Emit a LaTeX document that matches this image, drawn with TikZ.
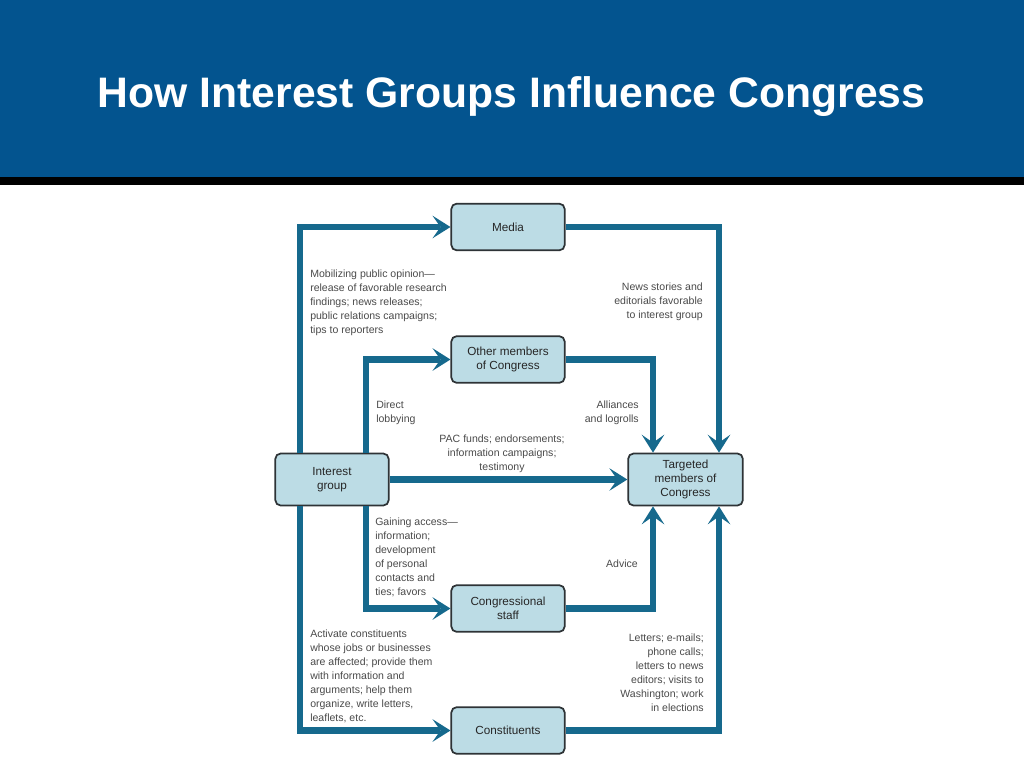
\documentclass[tikz,border=0pt]{standalone}
\usepackage{fontspec}
\setmainfont{Liberation Sans}
\usetikzlibrary{arrows.meta}
\definecolor{hdr}{HTML}{03548F}
\definecolor{flowc}{HTML}{16698D}
\definecolor{boxfill}{HTML}{BCDCE5}
\definecolor{boxline}{HTML}{2E3336}
\definecolor{lblc}{HTML}{4A4A4A}
\definecolor{boxtext}{HTML}{262626}
\begin{document}
\begin{tikzpicture}[x=0.75pt,y=-0.75pt,
 box/.style={draw=boxline, line width=1.3pt, fill=boxfill, rounded corners=4pt,
   minimum width=85pt, minimum height=35pt, align=center,
   font=\fontsize{8.8}{10.2}\selectfont, text=boxtext, inner sep=0pt},
 flow/.style={draw=flowc, line width=4.6pt, line join=miter,
   -{Stealth[length=13.5pt,width=17pt,inset=6pt,line width=0pt]}},
 lbl/.style={font=\fontsize{7.9}{10.5}\selectfont, text=lblc, inner sep=0pt}]
\useasboundingbox (0,0) rectangle (1024,768);
\fill[white] (0,0) rectangle (1024,768);
\fill[hdr] (0,0) rectangle (1024,177);
\fill[black] (0,177) rectangle (1024,185);
\node[anchor=base, text=white, font=\fontsize{32}{38}\selectfont\bfseries] (title) at (511.5,107) {How Interest Groups Influence Congress};

% nodes
\node[box] (media) at (508,227) {Media};
\node[box] (other) at (508,359.5) {Other members\\of Congress};
\node[box, minimum height=39pt] (ig) at (332,479.5) {Interest\\group};
\node[box, minimum width=86pt, minimum height=39pt] (tgt) at (685.5,479.5) {Targeted\\members of\\Congress};
\node[box] (staff) at (508,608.5) {Congressional\\staff};
\node[box] (const) at (508,730.5) {Constituents};

% trunk coordinates
\coordinate (L) at (300,0);
\coordinate (M) at (366,0);
\coordinate (N) at (653,0);
\coordinate (R) at (719,0);

% connectors
\draw[flow] (ig.north -| L) |- (media);
\draw[flow] (ig.north -| M) |- (other);
\draw[flow] (ig.south -| L) |- (const);
\draw[flow] (ig.south -| M) |- (staff);
\draw[flow] (ig) -- (tgt);
\draw[flow] (media.east) -| (tgt.north -| R);
\draw[flow] (other.east) -| (tgt.north -| N);
\draw[flow] (staff.east) -| (tgt.south -| N);
\draw[flow] (const.east) -| (tgt.south -| R);

% labels (anchor = baseline of last line)
\node[lbl, anchor=base west, align=left] (l1) at (310,333) {Mobilizing public opinion—\\release of favorable research\\findings; news releases;\\public relations campaigns;\\tips to reporters};
\node[lbl, anchor=base east, align=right] (l2) at (703,318) {News stories and\\editorials favorable\\to interest group};
\node[lbl, anchor=base west, align=left] (l3) at (376,422) {Direct\\lobbying};
\node[lbl, anchor=base east, align=right] (l4) at (639,422) {Alliances\\and logrolls};
\node[lbl, anchor=base, align=center] (l5) at (502,470) {PAC funds; endorsements;\\information campaigns;\\testimony};
\node[lbl, anchor=base west, align=left] (l6) at (375,595) {Gaining access—\\information;\\development\\of personal\\contacts and\\ties; favors};
\node[lbl, anchor=base east, align=right] (l7) at (638,567) {Advice};
\node[lbl, anchor=base west, align=left] (l8) at (310,721) {Activate constituents\\whose jobs or businesses\\are affected; provide them\\with information and\\arguments; help them\\organize, write letters,\\leaflets, etc.};
\node[lbl, anchor=base east, align=right] (l9) at (704,711) {Letters; e-mails;\\phone calls;\\letters to news\\editors; visits to\\Washington; work\\in elections};
\end{tikzpicture}
\end{document}
